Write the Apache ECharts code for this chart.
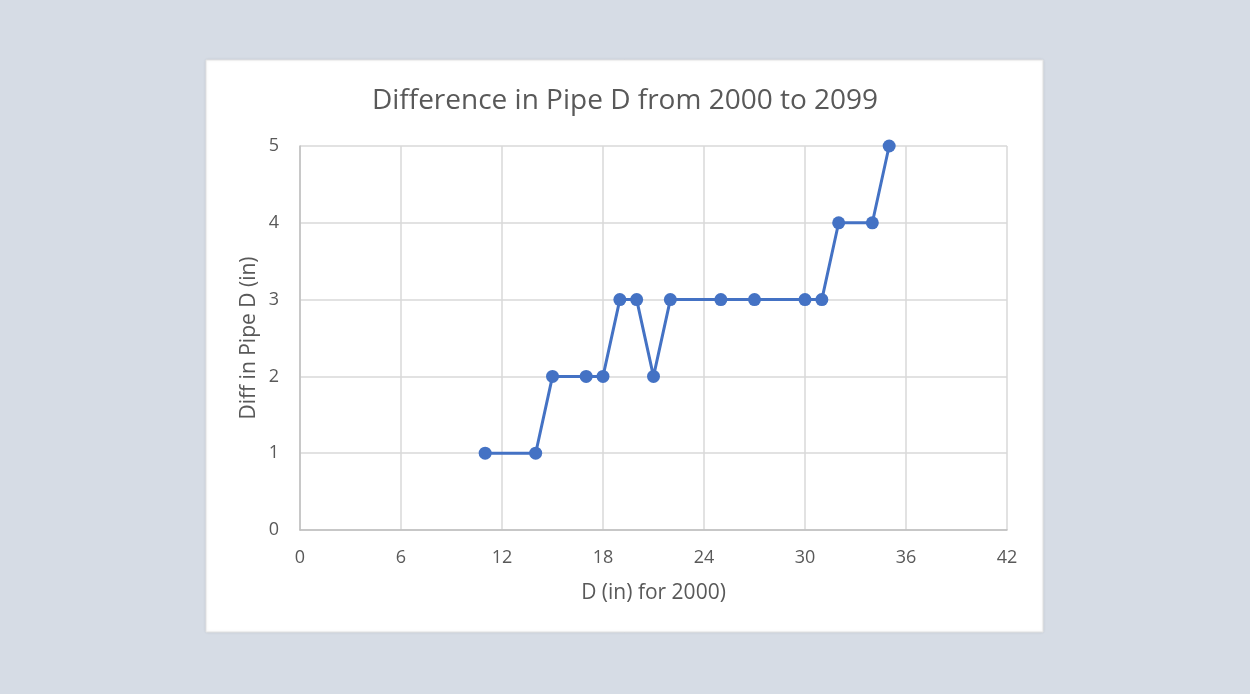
<!DOCTYPE html>
<html>
<head>
<meta charset="utf-8">
<script src="https://cdn.jsdelivr.net/npm/echarts@6/dist/echarts.min.js"></script>
<style>
  html, body { margin: 0; padding: 0; background: #d6dce5; }
  #chart { width: 1250px; height: 694px; }
</style>
</head>
<body>
<div id="chart"></div>
<script>
// Pipe diameter in 2000 (inches) and the change by 2099 (inches)
const diameter2000 = [11, 14, 15, 17, 18, 19, 20, 21, 22, 25, 27, 30, 31, 32, 34, 35];
const diffInches   = [1, 1, 2, 2, 2, 3, 3, 2, 3, 3, 3, 3, 3, 4, 4, 5];

const titleText = 'Difference in Pipe D from 2000 to 2099';
const xAxisName = 'D (in) for 2000)';
const yAxisName = 'Diff in Pipe D (in)';

const FONT = '"Open Sans", sans-serif';
const TEXT = '#595959';

const points = diameter2000.map((d, i) => [d, diffInches[i]]);

const chart = echarts.init(document.getElementById('chart'), null, { renderer: 'canvas' });
chart.setOption({
  backgroundColor: '#d6dce5',
  animation: false,
  graphic: [{
    type: 'rect',
    z: -10,
    shape: { x: 206, y: 60, width: 837, height: 572 },
    style: { fill: '#ffffff', stroke: '#e3e3e3', lineWidth: 1, shadowBlur: 3, shadowColor: 'rgba(0,0,0,0.08)' }
  }],
  title: {
    text: titleText,
    left: 'center',
    top: 82,
    textStyle: { fontFamily: FONT, fontSize: 28, fontWeight: 'normal', color: TEXT }
  },
  grid: { left: 300, right: 243, top: 146, bottom: 164, containLabel: false },
  xAxis: {
    type: 'value',
    min: 0, max: 42, interval: 6,
    name: xAxisName,
    nameLocation: 'middle',
    nameGap: 53,
    nameMoveOverlap: false,
    nameTextStyle: { fontFamily: FONT, fontSize: 21, color: TEXT },
    axisLine: { show: true, lineStyle: { color: '#bfbfbf', width: 1.5 } },
    axisTick: { show: false },
    axisLabel: { fontFamily: FONT, fontSize: 18, color: TEXT, margin: 19 },
    splitLine: { show: true, lineStyle: { color: '#d9d9d9', width: 1.5 } }
  },
  yAxis: {
    type: 'value',
    min: 0, max: 5, interval: 1,
    name: yAxisName,
    nameLocation: 'middle',
    nameGap: 40,
    nameMoveOverlap: false,
    nameTextStyle: { fontFamily: FONT, fontSize: 21, color: TEXT },
    axisLine: { show: true, lineStyle: { color: '#bfbfbf', width: 1.5 } },
    axisTick: { show: false },
    axisLabel: { fontFamily: FONT, fontSize: 18, color: TEXT, margin: 21 },
    splitLine: { show: true, lineStyle: { color: '#d9d9d9', width: 1.5 } }
  },
  series: [{
    type: 'line',
    data: points,
    symbol: 'circle',
    symbolSize: 13,
    lineStyle: { color: '#4472c4', width: 3 },
    itemStyle: { color: '#4472c4' }
  }]
});
</script>
</body>
</html>
